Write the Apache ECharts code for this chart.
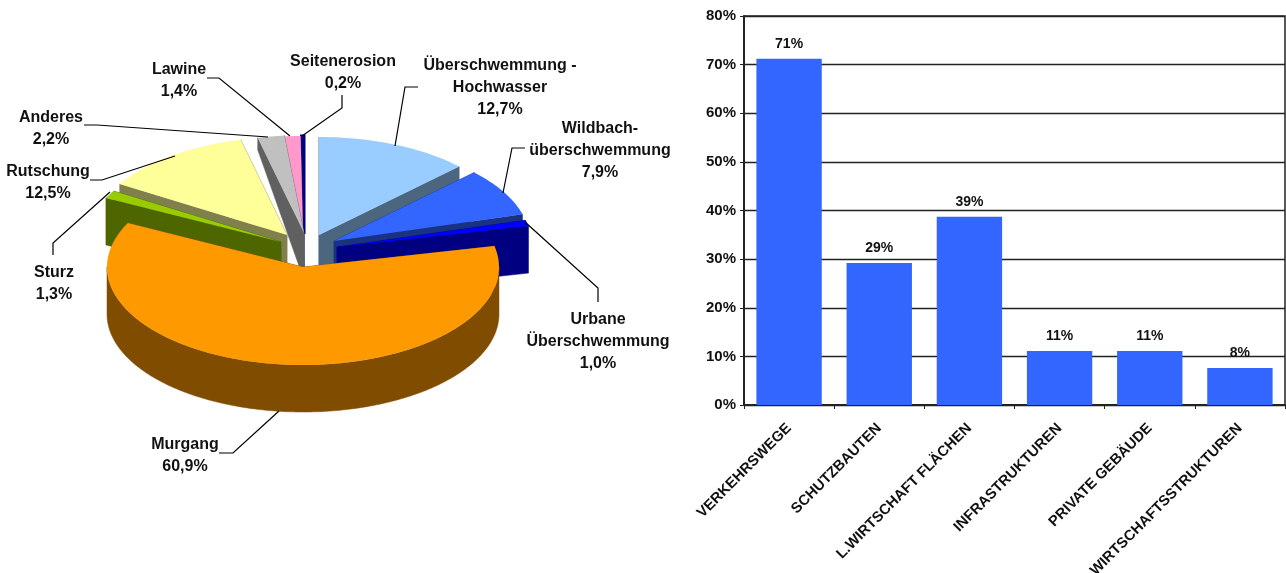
<!DOCTYPE html>
<html>
<head>
<meta charset="utf-8">
<style>html,body{margin:0;padding:0;background:#fff}#c{width:1286px;height:573px}</style>
<script src="https://cdn.jsdelivr.net/npm/echarts@6/dist/echarts.min.js"></script>
</head>
<body>
<div id="c"></div>
<script>
// ---- data ----
const sliceLabels = ['Überschwemmung -\nHochwasser','Wildbach-\nüberschwemmung','Urbane\nÜberschwemmung','Murgang','Sturz','Rutschung','Anderes','Lawine','Seitenerosion'];
const sliceValues = [12.7,7.9,1.0,60.9,1.3,12.5,2.2,1.4,0.2];
const sliceColors = ['#99CCFF','#3366FF','#0000FF','#FF9900','#99CC00','#FFFF99','#C0C0C0','#FF99CC','#000080'];
const sideColors  = ['#4D6680','#1A3380','#000080','#804D00','#4D6600','#80804D','#606060','#804D66','#000040'];
const barCategories = ['VERKEHRSWEGE','SCHUTZBAUTEN','L.WIRTSCHAFT FLÄCHEN','INFRASTRUKTUREN','PRIVATE GEBÄUDE','WIRTSCHAFTSSTRUKTUREN'];
const barValues = [71.2,29.2,38.7,11.1,11.1,7.6];
const yTicks = [0,10,20,30,40,50,60,70,80];

// ---- pie layout ----
const RX = 196, RY = 98, DEPTH = 47;
const explode = [[319,235],[334,241],[337,247],[303,267],[281,242],[287,235],[304,233],[303,234],[304,234]];
const rimDepth = [47,47,47,47,47,47,12,12,12];
const paintOrder = [8,7,6,0,5,1,4,2,3];
const labelBoxes = [[500,55],[600,118],[598,309],[185,434],[54,262],[48,161],[51,107],[179,59],[343,51]];
const leaders = [
  [[418,87],[405,87],[395,146]],
  [[525,148],[512,148],[503,193]],
  [[598,302],[598,288],[525,222]],
  [[219,453],[233,453],[279,411]],
  [[53,255],[53,243],[110,192]],
  [[90,180],[102,180],[175,156]],
  [[84,125],[97,125],[268,137]],
  [[207,78],[219,78],[290,136]],
  [[342,95],[342,108],[302,136]]
];
const total = sliceValues.reduce((a,b)=>a+b,0);
function startAngle(i){ let s=0; for(let k=0;k<i;k++) s+=sliceValues[k]; return s/total*360; }
function rimPt(c,deg){ const a=deg*Math.PI/180; return [c[0]+RX*Math.sin(a), c[1]-RY*Math.cos(a)]; }
function down(p,d){ return [p[0],p[1]+d]; }

function renderSlice(params, api){
  const i = api.value(1), v = api.value(0);
  const a0 = startAngle(i), a1 = a0 + v/total*360, c = explode[i], rd = rimDepth[i];
  const children = [];
  const side = sideColors[i], top = sliceColors[i];
  const sideStyle = {fill:side, stroke:side, lineWidth:0.5};
  [a0,a1].forEach(a=>{
    const r = rimPt(c,a);
    children.push({type:'polygon',shape:{points:[c,r,down(r,rd),down(c,DEPTH)]},style:sideStyle});
  });
  const w0 = Math.max(a0,90), w1 = Math.min(a1,270);
  if(w1>w0){
    const upper=[], lower=[];
    for(let a=w0;a<=w1;a+=1){ const p=rimPt(c,a); upper.push(p); lower.unshift(down(p,DEPTH)); }
    children.push({type:'polygon',shape:{points:upper.concat(lower)},style:sideStyle});
  }
  const pts=[c];
  const n=Math.max(2,Math.ceil(a1-a0));
  for(let k=0;k<=n;k++) pts.push(rimPt(c,a0+(a1-a0)*k/n));
  const thin = (a1-a0)<2;
  children.push({type:'polygon',shape:{points:pts},style:{fill:top,stroke:thin?top:'none',lineWidth:thin?3:0}});
  return {type:'group',children};
}
function renderLabel(params, api){
  const i = api.value(1), v = api.value(0), b = labelBoxes[i];
  return {type:'group',children:[
    {type:'polyline',shape:{points:leaders[i]},style:{fill:'none',stroke:'#000',lineWidth:1.2}},
    {type:'text',style:{x:b[0],y:b[1],text:sliceLabels[i]+'\n'+v.toFixed(1).replace('.',',')+'%',
      fill:'#111',font:'bold 16px "Liberation Sans", Arial, sans-serif',align:'center',verticalAlign:'top',lineHeight:22}}
  ]};
}

const FONT = '"Liberation Sans", Arial, sans-serif';
const chart = echarts.init(document.getElementById('c'),null,{renderer:'canvas'});
chart.setOption({
  animation:false,
  backgroundColor:'#fff',
  grid:{left:744,right:1,top:16,bottom:168,outerBoundsMode:'none',containLabel:false,show:true,borderColor:'#222',borderWidth:1.5,backgroundColor:'transparent'},
  xAxis:{type:'category',data:barCategories,
    axisLine:{lineStyle:{color:'#222',width:2}},
    axisTick:{show:true,length:4,lineStyle:{color:'#222',width:1}},
    axisLabel:{rotate:45,interval:0,margin:21,color:'#111',fontFamily:FONT,fontWeight:'bold',fontSize:14.7}},
  yAxis:{type:'value',min:yTicks[0],max:yTicks[yTicks.length-1],interval:10,
    axisLine:{show:true,lineStyle:{color:'#222',width:2}},
    axisTick:{show:true,length:4,lineStyle:{color:'#222',width:1}},
    splitLine:{show:true,lineStyle:{color:'#222',width:1.4}},
    axisLabel:{formatter:'{value}%',margin:8,padding:[6,0,0,0],color:'#111',fontFamily:FONT,fontWeight:'bold',fontSize:15}},
  series:[
    {type:'bar',data:barValues,barWidth:'72.5%',itemStyle:{color:'#3366FF'},
      label:{show:true,position:'top',distance:8,color:'#111',fontFamily:FONT,fontWeight:'bold',fontSize:14,
        formatter:p=>Math.round(p.value)+'%'},z:3},
    {type:'custom',coordinateSystem:'none',silent:true,renderItem:renderSlice,
      data:paintOrder.map(i=>[sliceValues[i],i]),z:4},
    {type:'custom',coordinateSystem:'none',silent:true,renderItem:renderLabel,
      data:sliceValues.map((v,i)=>[v,i]),z:5}
  ]
});
</script>
</body>
</html>
